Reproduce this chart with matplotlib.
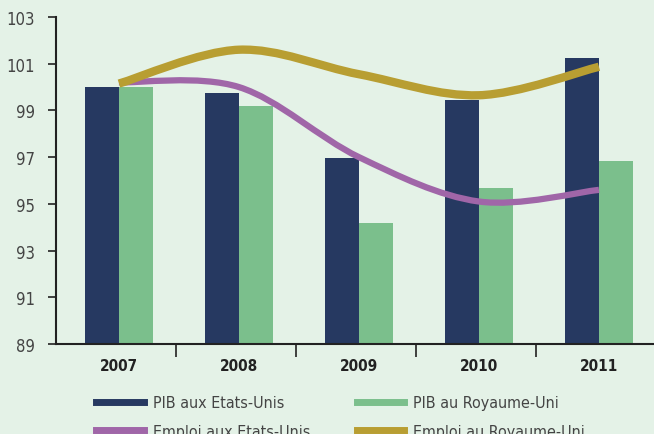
"""
    PIB et emploi : Etats-Unis vs Royaume-Uni (base 100 en 2007)
"""

import matplotlib.pyplot as plt
from matplotlib.path import Path
from matplotlib.patches import PathPatch
from matplotlib.lines import Line2D

# Data
years = ["2007", "2008", "2009", "2010", "2011"]
pib_us = [100.0, 99.74, 96.96, 99.46, 101.24]
pib_uk = [100.0, 99.19, 94.18, 95.68, 96.83]
emploi_us = [100.2, 100.0, 97.0, 95.1, 95.6]
emploi_uk = [100.15, 101.6, 100.55, 99.65, 100.87]

bg = "#e4f2e7"
navy = "#263961"
green = "#7bbf8c"
purple = "#a066a8"
gold = "#b89e32"

plt.rcParams["font.family"] = ["DejaVu Sans"]
plt.rcParams["font.stretch"] = "condensed"


def smooth_path(xs, ys):
    """catmull-rom curve through the points, as bezier segments"""
    pts = list(zip(xs, ys))
    ext = [pts[0]] + pts + [pts[-1]]
    verts = [pts[0]]
    codes = [Path.MOVETO]
    for i in range(1, len(ext) - 2):
        p0, p1, p2, p3 = ext[i - 1], ext[i], ext[i + 1], ext[i + 2]
        c1 = (p1[0] + (p2[0] - p0[0]) / 6, p1[1] + (p2[1] - p0[1]) / 6)
        c2 = (p2[0] - (p3[0] - p1[0]) / 6, p2[1] - (p3[1] - p1[1]) / 6)
        verts += [c1, c2, p2]
        codes += [Path.CURVE4] * 3
    return Path(verts, codes)


fig = plt.figure(figsize=(6.54, 4.35), dpi=100, facecolor=bg)
ax = fig.add_axes([0.0856, 0.2069, 0.9174, 0.7517])
ax.set_facecolor(bg)

x = list(range(len(years)))
w = 0.283
ax.bar([i - w / 2 for i in x], pib_us, width=w, color=navy, bottom=0, zorder=2)
ax.bar([i + w / 2 for i in x], pib_uk, width=w, color=green, bottom=0, zorder=2)

for vals, col, lw in [(emploi_us, purple, 4.5), (emploi_uk, gold, 6)]:
    patch = PathPatch(smooth_path(x, vals), facecolor="none", edgecolor=col,
                      lw=lw, capstyle="butt", zorder=3)
    ax.add_patch(patch)

ax.set_ylim(89, 103)
ax.set_xlim(-0.525, 4.475)
ax.set_yticks(range(89, 104, 2))
ax.tick_params(axis="y", direction="out", length=6, width=1.2,
               color="#222222", labelsize=12, labelcolor="#444444", pad=9)

ax.set_xticks(x)
ax.set_xticklabels(years, fontweight="bold", fontsize=11, color="#222222")
ax.set_xticks([i - 0.525 for i in range(1, 6)], minor=True)
ax.tick_params(axis="x", which="major", length=0, pad=10)
ax.tick_params(axis="x", which="minor", direction="out", length=9,
               width=1.2, color="#222222")

for s in ["top", "right"]:
    ax.spines[s].set_visible(False)
ax.spines["left"].set_linewidth(1.5)
ax.spines["bottom"].set_linewidth(1.5)
ax.spines["left"].set_color("#222222")
ax.spines["bottom"].set_color("#222222")

handles = [
    Line2D([], [], color=navy, lw=5),
    Line2D([], [], color=purple, lw=5),
    Line2D([], [], color=green, lw=5),
    Line2D([], [], color=gold, lw=5),
]
labels = ["PIB aux Etats-Unis", "Emploi aux Etats-Unis",
          "PIB au Royaume-Uni", "Emploi au Royaume-Uni"]
fig.legend(handles, labels, ncol=2, loc="upper left",
           bbox_to_anchor=(0.125, 0.122), frameon=False, fontsize=11.5,
           handlelength=3.0, handletextpad=0.55, columnspacing=2.9,
           labelspacing=0.85, labelcolor="#444444")

plt.savefig("out.png", dpi=100, facecolor=bg)
